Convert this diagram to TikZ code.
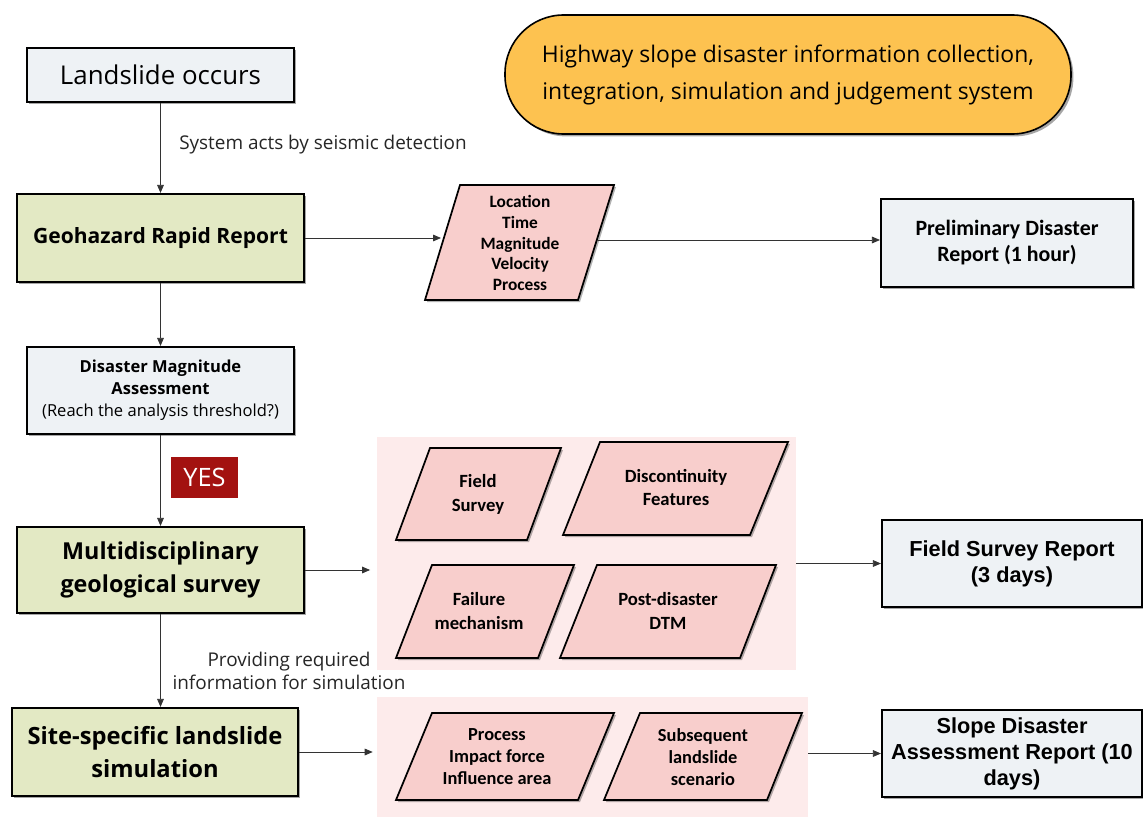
\documentclass[tikz,border=0pt]{standalone}
\usepackage{fontspec}
\setmainfont{Open Sans}
\newfontfamily\calfont{Carlito}
\newfontfamily\arifont{Liberation Sans}
\usetikzlibrary{arrows.meta,shadows}
\definecolor{boxblue}{RGB}{238,242,245}
\definecolor{boxgreen}{RGB}{227,233,196}
\definecolor{parapink}{RGB}{248,206,204}
\definecolor{bgpink}{RGB}{253,235,235}
\definecolor{titleorange}{RGB}{253,194,80}
\definecolor{yesred}{RGB}{163,18,16}
\tikzset{
  shad/.style={drop shadow={shadow xshift=1.8pt,shadow yshift=-1.8pt,fill=black,opacity=0.35}},
  bluebox/.style={draw=black,line width=1.6pt,fill=boxblue,shad,align=center,inner sep=2pt},
  greenbox/.style={draw=black,line width=1.6pt,fill=boxgreen,shad,align=center,inner sep=2pt},
  para/.style={draw=black,line width=1.3pt,fill=parapink,drop shadow={shadow xshift=1.5pt,shadow yshift=-1.5pt,fill=black,opacity=0.3}},
  paratext/.style={align=center,font=\calfont\bfseries\fontsize{14}{18}\selectfont},
  bgbox/.style={fill=bgpink,inner sep=0pt},
  arr/.style={-{Triangle[length=6pt,width=5pt]},line width=0.6pt,draw=black!80},
  lbl/.style={font=\fontsize{14.2}{17}\selectfont,text=black!85,inner sep=0pt}
}
\begin{document}
\begin{tikzpicture}[x=0.75pt,y=-0.75pt]
\useasboundingbox[fill=white] (0,0) rectangle (1143,817);

% title
\node[draw=black,line width=1.2pt,fill=titleorange,rounded corners=44pt,
  minimum width=424.5pt,minimum height=89.25pt,align=center,shad,
  font=\fontsize{17.2}{27.75}\selectfont] (title) at (788,74.5)
  {Highway slope disaster information collection,\\integration, simulation and judgement system};

% left column
\node[bluebox,minimum width=200.25pt,minimum height=40.5pt,font=\fontsize{19.4}{22}\selectfont] (land) at (160.5,75) {Landslide occurs};
\node[greenbox,minimum width=215.25pt,minimum height=66pt,font=\bfseries\fontsize{15.8}{19}\selectfont] (geo) at (160.5,238) {Geohazard Rapid Report};
\node[bluebox,minimum width=200.25pt,minimum height=65.25pt,font=\fontsize{12.4}{16.5}\selectfont] (dma) at (160.5,390.5)
  {\textbf{Disaster Magnitude}\\\textbf{Assessment}\\(Reach the analysis threshold?)};
\node[greenbox,minimum width=215.25pt,minimum height=64.5pt,font=\bfseries\fontsize{17.5}{24.75}\selectfont] (multi) at (160.5,570)
  {Multidisciplinary\\geological survey};
\node[greenbox,minimum width=214.5pt,minimum height=66pt,font=\bfseries\fontsize{17.8}{24.75}\selectfont] (site) at (155,752)
  {Site-specific landslide\\simulation};

% right column
\node[bluebox,minimum width=189pt,minimum height=66pt,font=\calfont\bfseries\fontsize{16.4}{19.5}\selectfont] (pre) at (1007,243)
  {Preliminary Disaster\\Report (1 hour)};
\node[bluebox,minimum width=195pt,minimum height=65.25pt,font=\arifont\bfseries\fontsize{16.3}{19.5}\selectfont] (fsr) at (1012,563.5)
  {Field Survey Report\\(3 days)};
\node[bluebox,minimum width=195pt,minimum height=65.25pt,font=\arifont\bfseries\fontsize{16.3}{19.5}\selectfont] (sdr) at (1012,753.5)
  {Slope Disaster\\Assessment Report (10\\days)};

% pink backgrounds
\node[bgbox,minimum width=314.25pt,minimum height=174.75pt] (bg1) at (586.5,553.5) {};
\node[bgbox,minimum width=323.25pt,minimum height=90pt] (bg2) at (592.5,757) {};

% parallelograms
\draw[para] (460,185) -- (614,185) -- (578,300) -- (425,300) -- cycle;
\node[paratext,font=\calfont\bfseries\fontsize{13}{15.5}\selectfont] (p1) at (520,243) {Location\\Time\\Magnitude\\Velocity\\Process};
\coordinate (p1w) at (441,240);
\coordinate (p1e) at (597,240);

\draw[para] (430,448) -- (561,448) -- (527,540) -- (396,540) -- cycle;
\node[paratext] (p2) at (478,494) {Field\\Survey};
\draw[para] (600,442) -- (788,442) -- (750,535) -- (563,535) -- cycle;
\node[paratext,font=\calfont\bfseries\fontsize{14}{17.25}\selectfont] (p3) at (676,488) {Discontinuity\\Features};
\draw[para] (432,565) -- (574,565) -- (538,658) -- (396,658) -- cycle;
\node[paratext] (p4) at (479,611) {Failure\\mechanism};
\draw[para] (597,565) -- (776,565) -- (740,658) -- (560,658) -- cycle;
\node[paratext] (p5) at (668,611) {Post-disaster\\DTM};

\draw[para] (432,713) -- (614,713) -- (578,800) -- (396,800) -- cycle;
\node[paratext,font=\calfont\bfseries\fontsize{13.8}{16.5}\selectfont] (p6) at (497,757) {Process\\Impact force\\Influence area};
\draw[para] (640,713) -- (802,713) -- (767,800) -- (604,800) -- cycle;
\node[paratext,font=\calfont\bfseries\fontsize{13.8}{16.5}\selectfont] (p7) at (703,757) {Subsequent\\landslide\\scenario};

% labels
\node[lbl,anchor=west] (l1) at (179,145) {System acts by seismic detection};
\node[fill=yesred,text=white,minimum width=50.25pt,minimum height=30.75pt,inner sep=0pt,font=\fontsize{19}{20}\selectfont] (yes) at (204.5,477.5) {YES};
\node[lbl,align=center] (l2) at (289,671) {Providing required\\information for simulation};

% connectors
\draw[arr] (land.south) -- (land.south |- geo.north);
\draw[arr] (geo.east) -- (geo.east -| p1w);
\draw[arr] (p1e) -- (p1e -| pre.west);
\draw[arr] (geo.south) -- (geo.south |- dma.north);
\draw[arr] (dma.south) -- (dma.south |- multi.north);
\draw[arr,shorten >=5pt] (multi.east) -- (multi.east -| bg1.west);
\draw[arr] (bg1.east |- fsr.west) -- (fsr.west);
\draw[arr] (multi.south) -- (multi.south |- site.north);
\draw[arr,shorten >=3pt] (site.east) -- (site.east -| bg2.west);
\draw[arr] (bg2.east |- sdr.west) -- (sdr.west);
\end{tikzpicture}
\end{document}
